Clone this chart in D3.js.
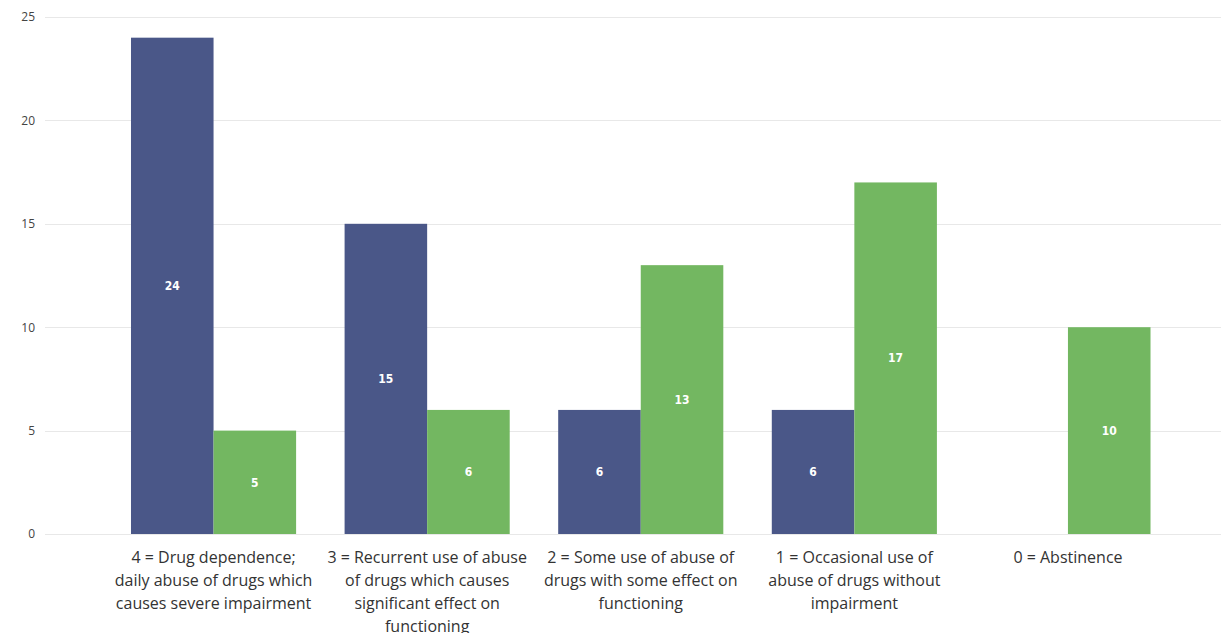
<!DOCTYPE html>
<html>
<head>
<meta charset="utf-8">
<script src="https://cdn.jsdelivr.net/npm/d3@7"></script>
<style>
  html, body { margin: 0; padding: 0; background: #fff; }
  svg { display: block; }
</style>
</head>
<body>
<svg id="chart" width="1221" height="633"></svg>
<script>
const categories = [
  "4 = Drug dependence;\ndaily abuse of drugs which\ncauses severe impairment",
  "3 = Recurrent use of abuse\nof drugs which causes\nsignificant effect on\nfunctioning",
  "2 = Some use of abuse of\ndrugs with some effect on\nfunctioning",
  "1 = Occasional use of\nabuse of drugs without\nimpairment",
  "0 = Abstinence"
];
const seriesNames = ["Series A", "Series B"];
const seriesA = [24, 15, 6, 6, 0];
const seriesB = [5, 6, 13, 17, 10];
const yTicks = [0, 5, 10, 15, 20, 25];
const colors = ["#4a5788", "#73b761"];

const svg = d3.select("#chart");
const plotLeft = 45, plotRight = 1221;

const x = d3.scaleBand().domain(categories).range([106.75, 1174.75])
  .paddingInner(0.227).paddingOuter(0.1135);
const xs = d3.scaleBand().domain(seriesNames).range([0, x.bandwidth()]);
const y = d3.scaleLinear().domain([0, 25]).range([534, 17]);

// gridlines
svg.append("g").selectAll("line").data(yTicks).join("line")
  .attr("x1", plotLeft).attr("x2", plotRight)
  .attr("y1", d => Math.round(y(d)) + 0.5).attr("y2", d => Math.round(y(d)) + 0.5)
  .attr("stroke", "#e8e8e8").attr("stroke-width", 1);

// y axis
const yAxis = d3.axisLeft(y).tickValues(yTicks).tickSize(0).tickPadding(0);
const ya = svg.append("g").attr("transform", "translate(35,0)").call(yAxis);
ya.select(".domain").remove();
ya.selectAll("text").attr("font-family", "'Open Sans', sans-serif").attr("font-size", 12).attr("fill", "#444");

// bars
const data = categories.map((c, i) => ({ c, vals: [seriesA[i], seriesB[i]] }));
const groups = svg.append("g").selectAll("g").data(data).join("g")
  .attr("transform", d => `translate(${x(d.c)},0)`);
groups.selectAll("rect").data(d => d.vals.map((v, j) => ({ v, s: seriesNames[j], j })))
  .join("rect")
  .attr("x", d => xs(d.s)).attr("width", xs.bandwidth())
  .attr("y", d => y(d.v)).attr("height", d => y(0) - y(d.v))
  .attr("fill", d => colors[d.j]);
groups.selectAll("text").data(d => d.vals.map((v, j) => ({ v, s: seriesNames[j], j })).filter(d => d.v > 0))
  .join("text")
  .attr("x", d => xs(d.s) + xs.bandwidth() / 2)
  .attr("y", d => (y(d.v) + y(0)) / 2)
  .attr("dy", "0.35em")
  .attr("text-anchor", "middle")
  .attr("font-family", "'DejaVu Sans Condensed', 'DejaVu Sans', sans-serif")
  .attr("font-weight", "bold").attr("font-size", 12).attr("fill", "#fff")
  .text(d => d.v);

// x axis
const xAxis = d3.axisBottom(x).tickSize(0).tickPadding(0);
const xa = svg.append("g").attr("transform", "translate(0,534)").call(xAxis);
xa.select(".domain").remove();
xa.selectAll("text")
  .attr("font-family", "'Open Sans', sans-serif").attr("font-size", 16).attr("fill", "#333")
  .attr("y", 0).attr("dy", null)
  .each(function(d) {
    const t = d3.select(this);
    t.text(null);
    d.split("\n").forEach((l, i) => {
      t.append("tspan").attr("x", 0).attr("y", 29 + i * 23).text(l);
    });
  });
</script>
</body>
</html>
